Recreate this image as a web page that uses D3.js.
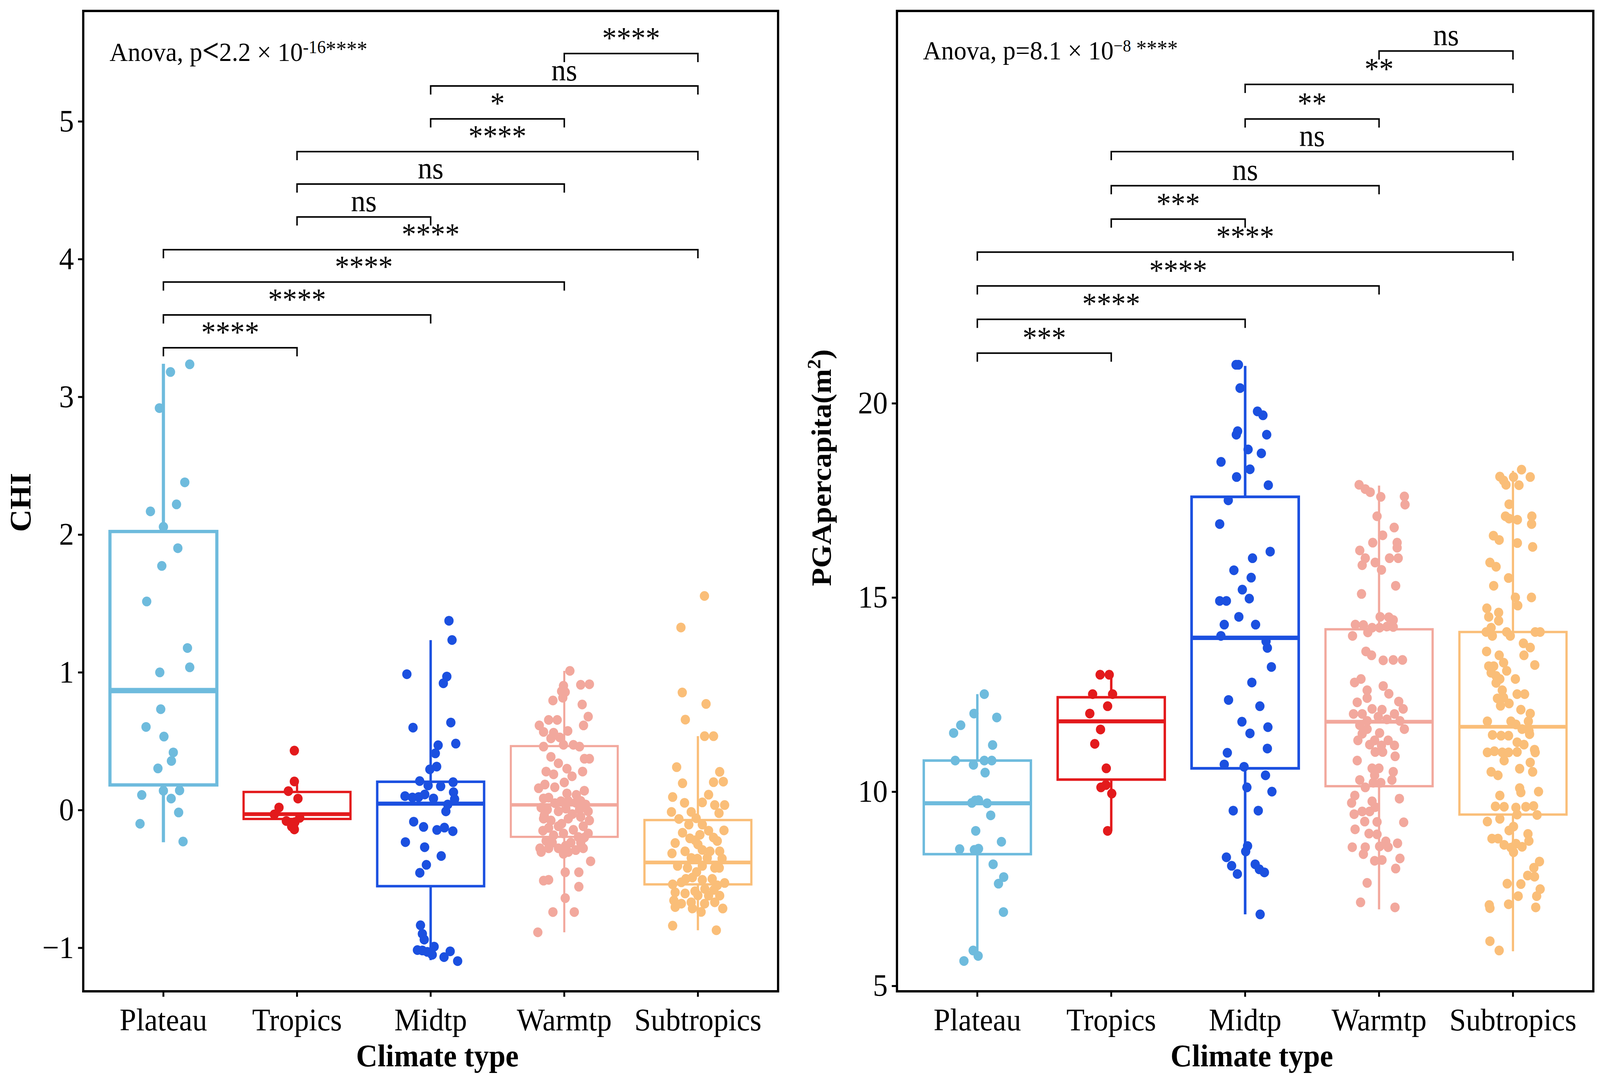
<!DOCTYPE html>
<html><head><meta charset="utf-8">
<script src="https://cdn.jsdelivr.net/npm/d3@7"></script>
<style>html,body{margin:0;padding:0;background:#fff;overflow:hidden;width:100%;height:100%}svg{display:block;width:100vw;height:100vh}</style>
</head><body>
<svg id="chart" viewBox="0 0 4306 2764" preserveAspectRatio="none"></svg>
<script>
// ---------------- DATA ----------------
const categories = ["Plateau","Tropics","Midtp","Warmtp","Subtropics"];

// CHI panel: box statistics (lower whisker, Q1, median, Q3, upper whisker)
const chiLow  = [-0.234, -0.15, -1.09, -0.888, -0.873];
const chiQ1   = [0.182, -0.065, -0.553, -0.195, -0.54];
const chiMed  = [0.867, -0.03, 0.046, 0.037, -0.381];
const chiQ3   = [2.022, 0.131, 0.205, 0.464, -0.073];
const chiHigh = [3.24, 0.207, 1.233, 1.01, 0.536];
const chiTicks = [-1, 0, 1, 2, 3, 4, 5];

// CHI observations: [value, jitter (fraction of category step)]
const chiPlateau = [[3.236,0.197],[3.18,0.053],[2.918,-0.03],[2.379,0.16],[2.219,0.098],[2.168,-0.097],[2.056,0],[1.901,0.108],[1.772,-0.012],[1.514,-0.125],[1.176,0.18],[1.036,0.197],[0.999,-0.027],[0.732,-0.02],[0.603,-0.13],[0.533,0.004],[0.418,0.074],[0.356,0.06],[0.302,-0.041],[0.109,-0.162],[0.14,0],[0.142,0.121],[0.083,0.058],[-0.018,0.114],[-0.1,-0.175],[-0.229,0.147]];
const chiTropics = [[0.431,-0.02],[0.207,-0.02],[0.137,-0.065],[0.083,0.007],[0.018,-0.135],[-0.032,-0.17],[-0.08,-0.08],[-0.088,-0.016],[-0.057,0.02],[-0.141,-0.02],[-0.12,-0.04]];
const chiMidtp = [[1.374,0.137],[1.234,0.16],[0.986,-0.178],[0.969,0.121],[0.92,0.095],[0.598,-0.132],[0.635,0.151],[0.482,0.188],[0.47,0.056],[0.411,0.035],[0.315,0.045],[0.295,-0.006],[0.21,-0.082],[0.202,0.168],[0.178,-0.019],[0.172,0.075],[0.129,0.171],[0.101,-0.192],[0.091,-0.136],[0.094,-0.09],[0.113,-0.044],[0.084,0.021],[0.079,0.179],[0.04,0.128],[-0.01,0.114],[-0.085,-0.127],[-0.123,-0.053],[-0.145,0.047],[-0.128,0.103],[-0.154,0.166],[-0.233,-0.189],[-0.27,-0.045],[-0.334,0.079],[-0.398,-0.032],[-0.456,-0.081],[-0.837,-0.076],[-0.899,-0.062],[-0.941,-0.048],[-1.017,-0.099],[-1.02,-0.062],[-0.992,0.026],[-1.051,0.012],[-1.068,0.1],[-1.026,0.146],[-1.097,0.202],[-1.03,-0.025]];
const chiWarmtp = [[1.01,0.042],[0.909,0.123],[0.913,0.188],[0.902,-0.006],[0.862,-0.02],[0.856,0.007],[0.795,-0.085],[0.815,-0.011],[0.766,0.134],[0.678,0.179],[0.614,0.144],[0.614,-0.187],[0.654,-0.117],[0.654,-0.053],[0.567,-0.155],[0.561,-0.08],[0.574,0.026],[0.52,-0.1],[0.527,-0.034],[0.46,-0.155],[0.473,0.068],[0.46,0.114],[0.473,-0.006],[0.386,-0.1],[0.372,0.188],[0.372,0.151],[0.339,-0.044],[0.279,-0.136],[0.259,-0.08],[0.245,0.058],[0.279,0.137],[0.158,-0.192],[0.185,-0.145],[0.165,-0.071],[0.084,-0.155],[0.09,-0.117],[0.064,-0.025],[0.066,0.03],[0.053,0.086],[0.066,0.123],[0.04,0.16],[0.017,-0.173],[0.003,-0.127],[-0.01,-0.044],[0.01,0.012],[0.003,0.114],[-0.01,0.179],[-0.063,-0.155],[-0.076,-0.1],[-0.063,0.03],[-0.05,0.123],[-0.076,0.188],[-0.13,-0.117],[-0.118,-0.044],[-0.144,0.068],[-0.118,0.142],[-0.17,0.179],[-0.184,-0.08],[-0.17,-0.006],[-0.196,0.105],[-0.224,-0.136],[-0.237,-0.09],[-0.237,0.049],[-0.237,0.123],[-0.278,-0.182],[-0.278,-0.117],[-0.278,-0.044],[-0.305,0.03],[-0.291,0.086],[-0.278,0.142],[-0.305,-0.173],[-0.318,-0.006],[-0.372,0.197],[-0.452,0.007],[-0.452,0.109],[-0.513,-0.155],[-0.507,-0.117],[-0.557,0.109],[-0.64,0.007],[-0.741,-0.085],[-0.741,0.075],[-0.888,-0.198],[0.12,0.02],[0.11,0.09],[-0.03,0.06],[-0.1,-0.02],[0.2,0.0],[-0.2,0.15],[-0.26,0.01],[0.3,0.02],[0.05,-0.07],[-0.04,-0.15],[0.14,0.15],[-0.15,-0.16]];
const chiSubtropics = [[1.554,0.049],[1.325,-0.127],[0.853,-0.117],[0.77,0.061],[0.656,-0.094],[0.536,0.05],[0.536,0.117],[0.311,-0.159],[0.277,0.163],[0.202,0.117],[0.206,0.19],[0.194,-0.115],[0.094,-0.189],[0.111,0.08],[0.052,-0.1],[0.055,0.033],[0.036,0.126],[0.036,0.2],[-0.014,-0.198],[-0.014,-0.05],[-0.023,0.158],[-0.065,-0.142],[-0.06,-0.013],[-0.106,0.033],[-0.106,-0.068],[-0.165,-0.115],[-0.206,-0.06],[-0.18,0.015],[-0.2,0.117],[-0.148,0.195],[-0.225,0.145],[-0.24,-0.17],[-0.315,-0.194],[-0.3,-0.096],[-0.29,0.033],[-0.3,0.163],[-0.348,-0.05],[-0.353,-0.004],[-0.348,0.07],[-0.353,0.181],[-0.406,-0.152],[-0.42,-0.078],[-0.406,0.033],[-0.42,0.126],[-0.54,-0.189],[-0.525,-0.124],[-0.49,-0.041],[-0.507,0.033],[-0.5,0.107],[-0.547,0.145],[-0.53,0.2],[-0.598,-0.17],[-0.606,-0.096],[-0.59,-0.022],[-0.573,0.052],[-0.622,0.08],[-0.622,0.163],[-0.657,-0.18],[-0.68,-0.124],[-0.67,-0.05],[-0.67,0.126],[-0.705,-0.17],[-0.715,-0.041],[-0.74,0.024],[-0.715,0.186],[-0.84,-0.189],[-0.873,0.138],[-0.25,0.0],[-0.45,-0.01],[-0.62,0.0],[-0.3,0.09],[-0.15,0.08],[-0.5,-0.09],[-0.42,0.16],[-0.22,-0.02],[-0.68,0.05],[-0.58,0.12]];

// CHI pairwise comparisons (bottom to top)
const chiPairFrom = ["Plateau","Plateau","Plateau","Plateau","Tropics","Tropics","Tropics","Midtp","Midtp","Warmtp"];
const chiPairTo   = ["Tropics","Midtp","Warmtp","Subtropics","Midtp","Warmtp","Subtropics","Warmtp","Subtropics","Subtropics"];
const chiPairY    = [3.356, 3.594, 3.833, 4.068, 4.306, 4.545, 4.780, 5.018, 5.257, 5.492];
const chiPairLabel = ["****","****","****","****","ns","ns","****","*","ns","****"];

// PGApercapita panel
const pgaLow  = [5.89, 8.99, 6.84, 6.97, 5.89];
const pgaQ1   = [8.39, 10.31, 10.60, 10.14, 9.41];
const pgaMed  = [9.70, 11.81, 13.96, 11.80, 11.67];
const pgaQ3   = [10.80, 12.43, 17.59, 14.18, 14.11];
const pgaHigh = [12.51, 13.01, 20.96, 17.88, 18.26];
const pgaTicks = [5, 10, 15, 20];

const pgaPlateau = [[12.51,0.052],[12.01,-0.025],[11.91,0.145],[11.71,-0.124],[11.51,-0.177],[11.20,0.114],[10.80,-0.165],[10.69,-0.029],[10.80,0.052],[10.80,0.108],[10.49,0.058],[9.77,-0.016],[9.71,-0.041],[9.78,0.009],[9.70,0.073],[9.39,0.1],[8.99,-0.012],[8.71,0.18],[8.52,-0.132],[8.50,-0.022],[8.53,0.009],[8.13,0.118],[7.80,0.197],[7.63,0.158],[6.90,0.195],[5.91,-0.031],[5.77,0.006],[5.64,-0.1]];
const pgaTropics = [[13.01,-0.083],[13.01,-0.015],[12.51,-0.139],[12.51,0.01],[12.20,-0.027],[12.01,-0.16],[11.60,-0.08],[11.23,-0.123],[10.60,-0.037],[10.11,-0.077],[10.17,-0.04],[9.95,0.004],[8.99,-0.027]];
const pgaMidtp = [[20.99,-0.068],[20.99,-0.05],[20.39,-0.038],[19.79,0.092],[19.69,0.133],[19.28,-0.056],[19.19,-0.066],[19.19,0.161],[18.81,0.022],[18.71,0.121],[18.49,-0.18],[18.30,0.036],[18.10,-0.064],[17.89,0.173],[17.50,-0.126],[16.89,-0.19],[16.18,0.187],[16.01,0.055],[15.70,-0.084],[15.51,0.045],[15.20,-0.021],[14.97,0.031],[14.91,-0.19],[14.91,-0.14],[14.50,-0.047],[14.30,-0.156],[14.30,0.078],[14.01,-0.181],[13.87,0.156],[13.70,0.166],[13.21,0.196],[12.81,0.05],[12.36,-0.124],[12.20,0.11],[11.80,-0.024],[11.66,0.17],[11.50,0.036],[11.00,-0.133],[11.11,0.166],[10.70,-0.156],[10.64,-0.008],[10.42,0.152],[10.11,0.013],[10.00,0.2],[9.51,-0.089],[9.51,0.098],[8.60,0.018],[8.46,0.004],[8.31,-0.14],[8.09,-0.101],[7.88,-0.058],[8.13,0.075],[8.00,0.106],[7.92,0.144],[6.84,0.112]];
const pgaWarmtp = [[17.90,-0.149],[17.79,-0.103],[17.71,-0.066],[17.59,0.013],[17.60,0.189],[17.39,0.194],[17.09,-0.015],[16.80,0.113],[16.60,0.027],[16.41,-0.047],[16.41,0.135],[16.28,0.135],[16.21,-0.144],[16.01,-0.103],[15.83,-0.126],[15.90,-0.029],[16.01,0.078],[16.01,0.143],[15.71,0.018],[15.30,0.124],[15.09,-0.131],[14.50,0.008],[14.49,0.073],[14.42,0.106],[14.30,-0.177],[14.29,-0.117],[14.22,-0.052],[14.22,0.004],[14.25,0.059],[14.24,0.106],[14.10,-0.084],[14.01,-0.198],[13.61,-0.098],[13.51,-0.056],[13.38,0.031],[13.39,0.106],[13.39,0.175],[12.90,-0.135],[12.81,-0.183],[12.72,0.031],[12.61,-0.089],[12.52,0.073],[12.41,-0.089],[12.30,-0.163],[12.32,0.147],[12.13,-0.052],[12.11,0.022],[12.13,0.18],[12.00,-0.191],[12.00,-0.126],[12.00,0.115],[11.93,-0.006],[11.82,-0.089],[11.86,0.059],[11.82,0.156],[11.71,-0.144],[11.61,-0.089],[11.61,0.189],[11.49,-0.126],[11.51,0.004],[11.32,-0.158],[11.32,-0.033],[11.32,0.068],[11.21,-0.07],[11.19,0.018],[11.19,0.115],[11.02,-0.029],[11.02,0.027],[10.91,0.12],[10.80,-0.163],[10.60,-0.052],[10.60,-0.001],[10.51,0.106],[10.42,-0.033],[10.30,-0.144],[10.23,-0.043],[10.23,0.013],[10.30,0.096],[10.11,-0.103],[9.90,-0.181],[9.75,-0.052],[9.71,-0.205],[9.82,0.152],[9.60,-0.029],[9.42,-0.186],[9.49,-0.126],[9.49,-0.07],[9.23,-0.107],[9.22,-0.015],[9.21,0.184],[9.03,-0.179],[8.92,-0.075],[8.90,-0.015],[8.57,-0.2],[8.57,-0.103],[8.39,-0.117],[8.59,0.004],[8.72,0.05],[8.57,0.068],[8.67,0.138],[8.22,-0.033],[8.24,0.022],[8.28,0.156],[8.02,0.124],[7.65,-0.089],[7.15,-0.138],[7.02,0.119]];
const pgaSubtropics = [[18.29,0.064],[18.11,-0.098],[18.01,-0.07],[17.90,-0.052],[18.10,0.004],[18.10,0.129],[17.89,0.045],[17.40,-0.029],[17.09,-0.056],[17.03,-0.029],[17.00,0.033],[17.09,0.141],[16.89,0.139],[16.59,-0.146],[16.48,-0.103],[16.40,0.033],[16.30,0.147],[15.90,-0.172],[15.79,-0.126],[15.50,-0.033],[15.30,-0.144],[15.00,0.018],[15.00,0.138],[14.79,0.036],[14.72,-0.195],[14.61,-0.107],[14.50,-0.181],[14.40,-0.107],[14.22,-0.163],[14.11,-0.2],[14.01,-0.154],[14.11,-0.047],[14.01,-0.02],[14.11,0.166],[14.11,0.203],[13.82,0.078],[13.71,0.129],[13.61,-0.197],[13.51,-0.103],[13.51,0.082],[13.32,-0.07],[13.26,0.163],[13.23,-0.181],[13.23,-0.144],[13.11,-0.047],[13.06,-0.163],[12.98,-0.126],[12.90,-0.098],[12.90,0.018],[12.80,-0.126],[12.61,-0.08],[12.51,0.031],[12.51,0.087],[12.40,-0.116],[12.42,-0.07],[12.27,-0.029],[12.21,-0.093],[12.11,0.059],[12.01,0.129],[11.81,-0.191],[11.81,-0.015],[11.73,0.022],[11.81,0.115],[11.61,0.068],[11.56,0.12],[11.46,-0.153],[11.44,-0.089],[11.44,-0.033],[11.48,0.124],[11.27,0.031],[11.21,0.082],[11.01,-0.191],[11.04,-0.139],[11.01,-0.08],[11.01,-0.033],[11.02,0.031],[11.08,0.161],[11.01,0.166],[10.80,-0.066],[10.75,0.129],[10.51,-0.163],[10.42,-0.112],[10.59,0.05],[10.51,0.147],[10.09,0.05],[9.98,0.059],[10.00,0.191],[9.90,-0.098],[9.62,-0.131],[9.61,-0.066],[9.59,0.022],[9.61,0.096],[9.63,0.154],[9.41,0.031],[9.40,0.18],[9.23,-0.191],[9.30,-0.098],[9.10,0.004],[9.00,-0.029],[8.79,-0.157],[8.79,-0.112],[8.91,0.112],[8.73,0.119],[8.63,-0.066],[8.56,-0.015],[8.66,0.022],[8.58,0.068],[8.44,0.004],[8.20,0.198],[8.04,0.156],[7.84,0.11],[7.81,0.161],[7.63,-0.043],[7.62,0.059],[7.49,0.203],[7.31,0.039],[7.31,0.177],[7.08,-0.177],[7.10,-0.033],[7.02,0.17],[7.00,-0.172],[6.15,-0.172],[5.91,-0.103]];

const pgaPairFrom = ["Plateau","Plateau","Plateau","Plateau","Tropics","Tropics","Tropics","Midtp","Midtp","Warmtp"];
const pgaPairTo   = ["Tropics","Midtp","Warmtp","Subtropics","Midtp","Warmtp","Subtropics","Warmtp","Subtropics","Subtropics"];
const pgaPairY    = [21.29, 22.16, 23.02, 23.89, 24.74, 25.60, 26.48, 27.32, 28.21, 29.07];
const pgaPairLabel = ["***","****","****","****","***","ns","ns","**","**","ns"];

// ---------------- STYLE / LAYOUT ----------------
const colors = ["#6EBBDD", "#E31A1C", "#1B50E0", "#F2A89D", "#FABE78"];
const FONT = "'Liberation Serif','Times New Roman',Times,serif";
const PT = 28, PB = 2537;
const svg = d3.select("#chart");
svg.append("rect").attr("width",4306).attr("height",2764).attr("fill","#fff");

function drawPanel(p) {
  const g = svg.append("g");
  const x = d3.scaleBand().domain(categories).range([p.left, p.right]).paddingInner(0).paddingOuter(0.1);
  const step = x.step();
  const cx = c => x(c) + x.bandwidth() / 2;
  const y = d3.scaleLinear().domain(p.domain).range([PB, PT]);
  const bw = step * 0.8;

  // boxplots
  categories.forEach((c, i) => {
    const col = colors[i];
    const lw = p.boxLw[i];
    const bx = g.append("g");
    bx.append("line").attr("x1", cx(c)).attr("x2", cx(c)).attr("y1", y(p.q3[i])).attr("y2", y(p.hi[i]))
      .attr("stroke", col).attr("stroke-width", lw);
    bx.append("line").attr("x1", cx(c)).attr("x2", cx(c)).attr("y1", y(p.q1[i])).attr("y2", y(p.lo[i]))
      .attr("stroke", col).attr("stroke-width", lw);
    bx.append("rect").attr("x", cx(c) - bw / 2).attr("y", y(p.q3[i]))
      .attr("width", bw).attr("height", y(p.q1[i]) - y(p.q3[i]))
      .attr("fill", "none").attr("stroke", col).attr("stroke-width", lw);
    bx.append("line").attr("x1", cx(c) - bw / 2).attr("x2", cx(c) + bw / 2)
      .attr("y1", y(p.med[i])).attr("y2", y(p.med[i]))
      .attr("stroke", col).attr("stroke-width", lw * 1.6);
  });

  // jittered points
  p.points.forEach((arr, i) => {
    g.append("g").selectAll("circle").data(arr).join("circle")
      .attr("cx", d => cx(categories[i]) + d[1] * step)
      .attr("cy", d => y(d[0]))
      .attr("r", 12.5)
      .attr("fill", colors[i]);
  });

  // panel frame
  g.append("rect").attr("x", p.left).attr("y", PT).attr("width", p.right - p.left).attr("height", PB - PT)
    .attr("fill", "none").attr("stroke", "#000").attr("stroke-width", 6);

  // y axis
  const ya = g.append("g").attr("transform", `translate(${p.left},0)`)
    .call(d3.axisLeft(y).tickValues(p.ticks).tickSize(14).tickPadding(11).tickFormat(d3.format("d")));
  ya.select(".domain").remove();
  ya.selectAll(".tick line").attr("stroke", "#000").attr("stroke-width", 5);
  ya.selectAll(".tick text").attr("font-family", FONT).attr("font-size", 80).attr("fill", "#000");

  // x axis
  const xa = g.append("g").attr("transform", `translate(0,${PB})`)
    .call(d3.axisBottom(x).tickSize(14).tickPadding(29));
  xa.select(".domain").remove();
  xa.selectAll(".tick line").attr("stroke", "#000").attr("stroke-width", 5);
  xa.selectAll(".tick text").attr("font-family", FONT).attr("font-size", 80).attr("fill", "#000");

  // axis titles
  g.append("text").attr("x", (p.left + p.right) / 2 + 18).attr("y", 2729)
    .attr("text-anchor", "middle").attr("font-family", FONT).attr("font-size", 80).attr("font-weight", "bold")
    .text("Climate type");
  const yt = g.append("text").attr("transform", `translate(${p.ytitleX},${p.ytitleY}) rotate(-90)`)
    .attr("text-anchor", "middle").attr("font-family", FONT).attr("font-size", p.ytitleSize).attr("font-weight", "bold");
  p.ytitle(yt);

  // significance brackets
  const tip = 22;
  p.pairY.forEach((v, k) => {
    const x1 = cx(p.pairFrom[k]), x2 = cx(p.pairTo[k]), yy = y(v);
    g.append("path").attr("d", `M${x1},${yy + tip}V${yy}H${x2}V${yy + tip}`)
      .attr("fill", "none").attr("stroke", "#000").attr("stroke-width", 4);
    g.append("text").attr("x", (x1 + x2) / 2).attr("y", yy - 14)
      .attr("text-anchor", "middle").attr("font-family", FONT).attr("font-size", 78)
      .text(p.pairLabel[k]);
  });

  // anova annotation
  p.anova(g.append("text").attr("font-family", FONT).attr("fill", "#000"));
}

drawPanel({
  left: 224, right: 2094,
  domain: [(2073 - PB) / 352.5, (2073 - PT) / 352.5],
  ticks: chiTicks,
  lo: chiLow, q1: chiQ1, med: chiMed, q3: chiQ3, hi: chiHigh,
  boxLw: [8.5, 6, 6.5, 5.5, 6],
  points: [chiPlateau, chiTropics, chiMidtp, chiWarmtp, chiSubtropics],
  pairFrom: chiPairFrom, pairTo: chiPairTo, pairY: chiPairY, pairLabel: chiPairLabel,
  ytitleX: 82, ytitleY: 1286, ytitleSize: 80,
  ytitle: t => t.text("CHI"),
  anova: t => {
    t.attr("x", 295).attr("y", 156).attr("font-size", 68);
    t.append("tspan").text("Anova, p");
    t.append("tspan").attr("font-size", 80).attr("font-weight", "bold").text("<");
    t.append("tspan").text("2.2 \u00D7 10");
    t.append("tspan").attr("font-size", 46).attr("dy", -20).text("-16");
    t.append("tspan").attr("font-size", 56).attr("dy", 9).text("****");
  }
});

drawPanel({
  left: 2414, right: 4288,
  domain: [10 - (PB - 2026) / 99.4, 10 + (2026 - PT) / 99.4],
  ticks: pgaTicks,
  lo: pgaLow, q1: pgaQ1, med: pgaMed, q3: pgaQ3, hi: pgaHigh,
  boxLw: [6.5, 6.5, 7, 6, 6],
  points: [pgaPlateau, pgaTropics, pgaMidtp, pgaWarmtp, pgaSubtropics],
  pairFrom: pgaPairFrom, pairTo: pgaPairTo, pairY: pgaPairY, pairLabel: pgaPairLabel,
  ytitleX: 2236, ytitleY: 1197, ytitleSize: 76,
  ytitle: t => {
    t.append("tspan").text("PGApercapita(m");
    t.append("tspan").attr("font-size", 50).attr("dy", -28).text("2");
    t.append("tspan").attr("dy", 28).text(")");
  },
  anova: t => {
    t.attr("x", 2484).attr("y", 152).attr("font-size", 68);
    t.append("tspan").text("Anova, p=8.1 \u00D7 10");
    t.append("tspan").attr("font-size", 44).attr("dy", -20).text("\u22128");
    t.append("tspan").attr("font-size", 56).attr("dy", 11).text(" ****");
  }
});
</script>
</body></html>
